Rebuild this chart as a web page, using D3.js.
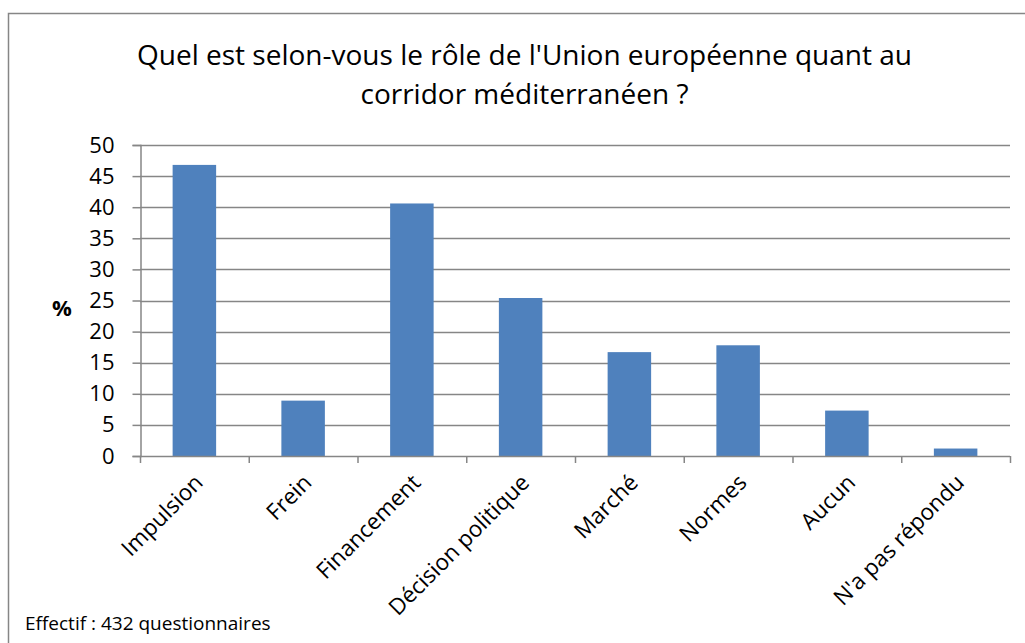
<!DOCTYPE html>
<html>
<head>
<meta charset="utf-8">
<script src="https://cdn.jsdelivr.net/npm/d3@7"></script>
<style>
  html, body { margin: 0; padding: 0; background: #fff; }
  svg { display: block; }
  text { font-family: "Open Sans", "Noto Sans", sans-serif; fill: #000; }
</style>
</head>
<body>
<svg id="chart" width="1025" height="643"></svg>
<script>
// Survey answers: share of respondents (%) per perceived role of the EU
const categories = ["Impulsion", "Frein", "Financement", "Décision politique",
                    "Marché", "Normes", "Aucun", "N'a pas répondu"];
const percentages = [46.8, 8.9, 40.6, 25.4, 16.7, 17.8, 7.3, 1.2];
const yTicks = [0, 5, 10, 15, 20, 25, 30, 35, 40, 45, 50];
const titleLines = ["Quel est selon-vous le rôle de l'Union européenne quant au",
                    "corridor méditerranéen ?"];
const yAxisTitle = "%";
const footnote = "Effectif : 432 questionnaires";

const svg = d3.select("#chart");
const gridColor = "#868686";
const barColor = "#4F81BD";

// Chart frame
svg.append("rect")
  .attr("x", 8.5).attr("y", 13.5)
  .attr("width", 1030).attr("height", 640)
  .attr("fill", "none").attr("stroke", gridColor).attr("stroke-width", 1.5);

const plot = { left: 140, right: 1010, top: 145, bottom: 456 };

const x = d3.scaleBand()
  .domain(categories)
  .range([plot.left, plot.right])
  .paddingInner(0.6)
  .paddingOuter(0.3);

const y = d3.scaleLinear()
  .domain([0, 50])
  .range([plot.bottom, plot.top]);

// Horizontal gridlines
svg.append("g")
  .selectAll("line")
  .data(yTicks.filter(d => d > 0))
  .join("line")
  .attr("x1", plot.left).attr("x2", plot.right)
  .attr("y1", d => Math.round(y(d)) + 0.5).attr("y2", d => Math.round(y(d)) + 0.5)
  .attr("stroke", gridColor).attr("stroke-width", 1.5);

// Y axis
const yAxis = d3.axisLeft(y).tickValues(yTicks).tickSize(8).tickPadding(18)
  .tickFormat(d3.format("d"));
const gy = svg.append("g")
  .attr("transform", `translate(${plot.left + 0.5},0)`)
  .call(yAxis);
gy.select(".domain").attr("stroke", gridColor).attr("stroke-width", 1.5);
gy.selectAll(".tick line").attr("stroke", gridColor).attr("stroke-width", 1.5);
gy.selectAll(".tick text")
  .attr("font-size", 22)
  .attr("font-family", "'Open Sans', sans-serif");

// Bars
svg.append("g")
  .selectAll("rect")
  .data(categories.map((c, i) => ({ c, v: percentages[i] })))
  .join("rect")
  .attr("x", d => x(d.c))
  .attr("width", x.bandwidth())
  .attr("y", d => y(d.v))
  .attr("height", d => y(0) - y(d.v))
  .attr("fill", barColor);

// X axis: baseline with tick marks between categories
const step = x.step();
const boundaries = d3.range(categories.length + 1).map(i => plot.left + i * step);
const gx = svg.append("g");
gx.append("line")
  .attr("x1", plot.left).attr("x2", plot.right)
  .attr("y1", plot.bottom + 0.5).attr("y2", plot.bottom + 0.5)
  .attr("stroke", gridColor).attr("stroke-width", 1.5);
gx.selectAll("line.tick")
  .data(boundaries)
  .join("line")
  .attr("class", "tick")
  .attr("x1", d => d + 0.5).attr("x2", d => d + 0.5)
  .attr("y1", plot.bottom).attr("y2", plot.bottom + 7)
  .attr("stroke", gridColor).attr("stroke-width", 1.5);

// Rotated category labels
gx.selectAll("text")
  .data(categories)
  .join("text")
  .attr("transform", d => `translate(${x(d) + x.bandwidth() / 2 + 10},${plot.bottom + 28}) rotate(-45)`)
  .attr("text-anchor", "end")
  .attr("font-size", 22.5)
  .text(d => d);

// Y axis title
svg.append("text")
  .attr("x", 62).attr("y", 307)
  .attr("text-anchor", "middle")
  .attr("dominant-baseline", "central")
  .attr("font-size", 22).attr("font-weight", "bold")
  .text(yAxisTitle);

// Title
const title = svg.append("g");
titleLines.forEach((t, i) => {
  title.append("text")
    .attr("x", 524.5).attr("y", 65 + i * 39)
    .attr("text-anchor", "middle")
    .attr("font-size", 28)
    .text(t);
});

// Footnote
svg.append("text")
  .attr("x", 25).attr("y", 630)
  .attr("font-size", 19)
  .text(footnote);
</script>
</body>
</html>
